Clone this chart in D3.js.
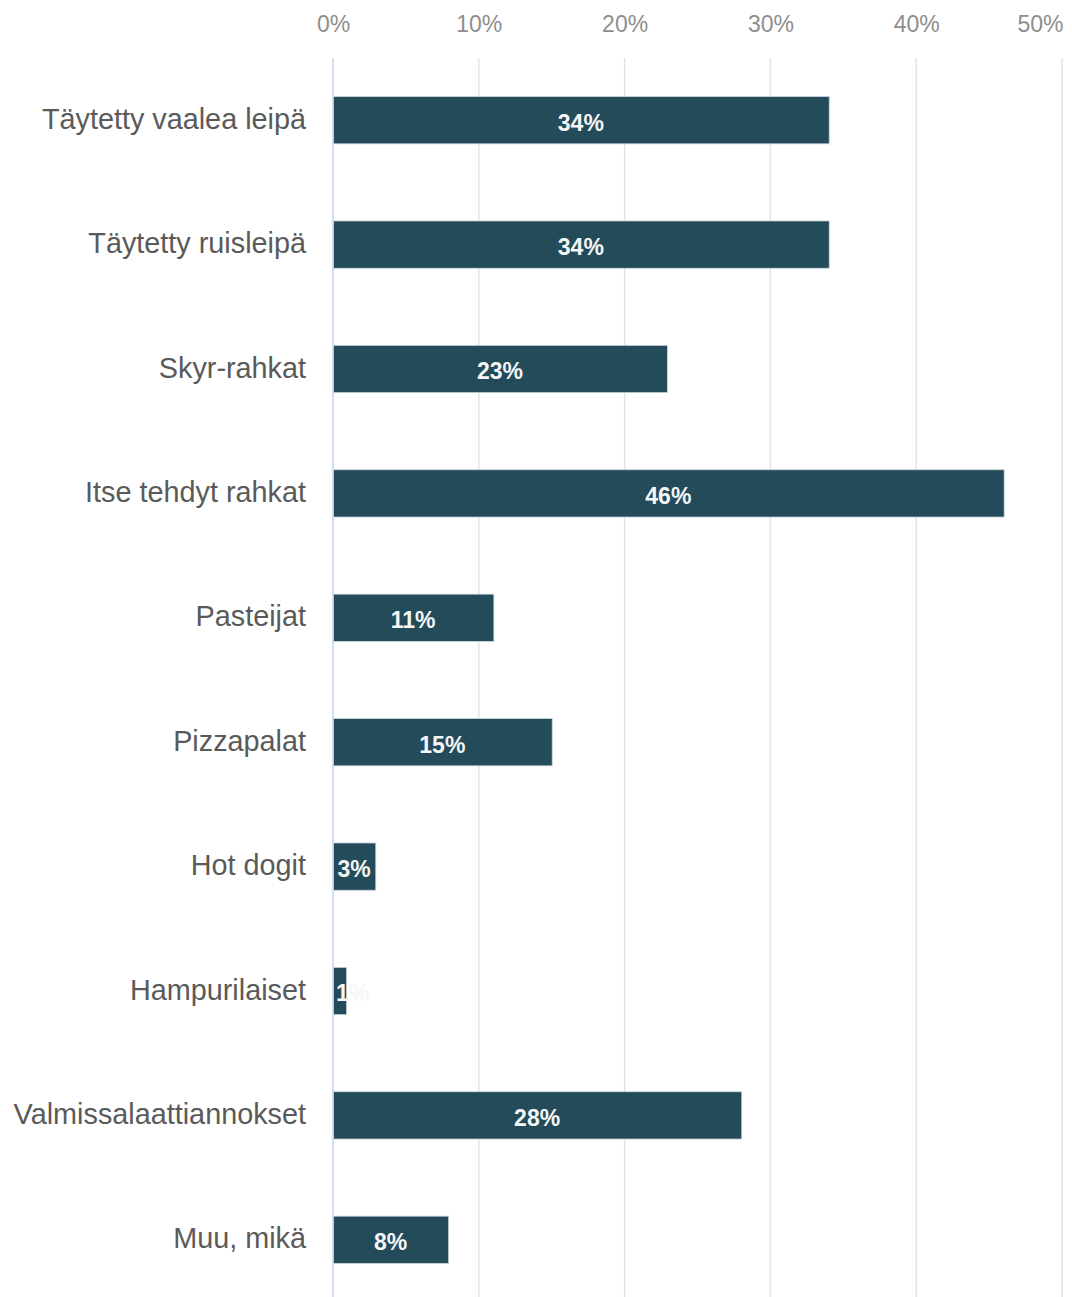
<!DOCTYPE html>
<html>
<head>
<meta charset="utf-8">
<script src="https://cdn.jsdelivr.net/npm/d3@7"></script>
<style>
  html, body { margin: 0; padding: 0; background: #fff; }
  svg { display: block; }
</style>
</head>
<body>
<svg id="chart" width="1072" height="1297"></svg>
<script>
const categories = [
  "Täytetty vaalea leipä",
  "Täytetty ruisleipä",
  "Skyr-rahkat",
  "Itse tehdyt rahkat",
  "Pasteijat",
  "Pizzapalat",
  "Hot dogit",
  "Hampurilaiset",
  "Valmissalaattiannokset",
  "Muu, mikä"
];
const values = [0.34, 0.34, 0.229, 0.46, 0.11, 0.15, 0.029, 0.009, 0.28, 0.079];
const tickValues = [0, 0.1, 0.2, 0.3, 0.4, 0.5];

const svg = d3.select("#chart");
const x = d3.scaleLinear().domain([0, 0.5]).range([333, 1062]);
const y = d3.scaleBand().domain(categories).range([58, 1302]).paddingInner(0.62).paddingOuter(0.31);
const fmt = d3.format(".0%");

// gridlines
svg.append("g").selectAll("line").data(tickValues).join("line")
  .attr("x1", d => x(d)).attr("x2", d => x(d))
  .attr("y1", 58).attr("y2", 1297)
  .attr("stroke", d => d === 0 ? "#c9d4ea" : "#e3e3e3")
  .attr("stroke-width", 1.5);

// top axis labels
const xAxis = d3.axisTop(x).tickValues(tickValues).tickFormat(fmt).tickSize(0).tickPadding(0);
const ax = svg.append("g").attr("transform", "translate(0,32)").call(xAxis);
ax.select(".domain").remove();
ax.selectAll("text")
  .attr("font-family", "Liberation Sans, Arial, sans-serif")
  .attr("font-size", 23)
  .attr("fill", "#8e8e8e")
  .attr("dy", 0)
  .attr("text-anchor", d => d === 0.5 ? "end" : "middle")
  .attr("x", d => d === 0.5 ? 1 : 0);

// category labels
const yAxis = d3.axisLeft(y).tickSize(0).tickPadding(27);
const ay = svg.append("g").attr("transform", `translate(${x(0)},0)`).call(yAxis);
ay.select(".domain").remove();
ay.selectAll("text")
  .attr("font-family", "Liberation Sans, Arial, sans-serif")
  .attr("font-size", 28.8)
  .attr("fill", "#5a5a5a")
  .attr("dy", "0.3em");

const data = categories.map((c, i) => ({ c, v: values[i] }));

// bars
svg.append("g").selectAll("rect").data(data).join("rect")
  .attr("x", x(0) + 0.5)
  .attr("y", d => y(d.c))
  .attr("width", d => x(d.v) - x(0))
  .attr("height", y.bandwidth())
  .attr("fill", "#234b59")
  .attr("stroke", "#c9d6dc")
  .attr("stroke-width", 0.8);

// bar labels
const lbl = svg.append("g").selectAll("text").data(data).join("text")
  .attr("y", d => y(d.c) + y.bandwidth() / 2)
  .attr("dy", "0.45em")
  .attr("text-anchor", "middle")
  .attr("font-family", "Liberation Sans, Arial, sans-serif")
  .attr("font-size", 23)
  .attr("font-weight", "bold")
  .attr("fill", "#f4f6f7")
  .text(d => fmt(d.v));
lbl.attr("x", function(d) {
  const w = this.getComputedTextLength();
  const c = (x(0) + x(d.v)) / 2;
  return Math.max(c, x(0) + w / 2 + 3);
});
</script>
</body>
</html>
